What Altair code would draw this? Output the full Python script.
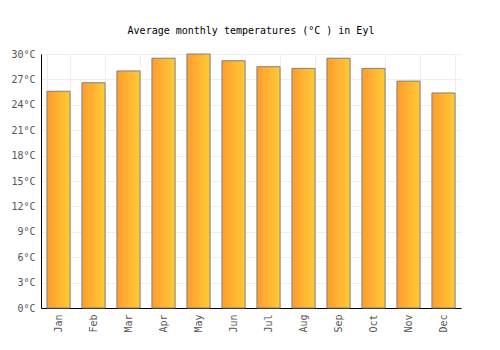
import altair as alt
import pandas as pd

months = ["Jan", "Feb", "Mar", "Apr", "May", "Jun", "Jul", "Aug", "Sep", "Oct", "Nov", "Dec"]
temps = [25.6, 26.6, 28.0, 29.5, 30.0, 29.2, 28.5, 28.3, 29.5, 28.3, 26.8, 25.4]

df = pd.DataFrame({"month": months, "temp": temps})

font = "DejaVu Sans Mono"

chart = alt.Chart(df).mark_bar(
    color=alt.Gradient(
        gradient="linear",
        stops=[alt.GradientStop(color="#FF9C2E", offset=0),
               alt.GradientStop(color="#FFCA35", offset=1)],
        x1=0, x2=1, y1=0, y2=0,
    ),
    stroke="#808080",
    strokeWidth=1,
).encode(
    x=alt.X("month:N", sort=months, title=None,
            scale=alt.Scale(paddingInner=0.34, paddingOuter=0.17),
            axis=alt.Axis(labelAngle=270, tickBand="extent", ticks=False,
                          grid=True, gridColor="#eeeeee", domainColor="#000000",
                          labelColor="#555555", labelFont=font, labelFontSize=10,
                          labelPadding=6, labelBaseline="middle", labelAlign="right")),
    y=alt.Y("temp:Q", title=None,
            scale=alt.Scale(domain=[0, 30], nice=False),
            axis=alt.Axis(values=[0, 3, 6, 9, 12, 15, 18, 21, 24, 27, 30],
                          labelExpr="datum.value + '°C'", ticks=False,
                          grid=True, gridColor="#eeeeee", domainColor="#000000",
                          labelColor="#555555", labelFont=font, labelFontSize=10,
                          labelPadding=6)),
).properties(
    width=420,
    height=254,
    title=alt.TitleParams("Average monthly temperatures (°C ) in Eyl",
                          font=font, fontSize=10, fontWeight="normal",
                          color="#000000", offset=13),
    autosize=alt.AutoSizeParams(type="none"),
    padding={"left": 41, "top": 54, "right": 39, "bottom": 42},
).configure_view(stroke=None)

chart.save("out.html", embed_options={"renderer": "svg", "actions": False})
